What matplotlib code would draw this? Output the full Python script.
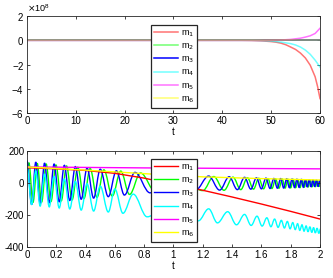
import matplotlib
matplotlib.use('Agg')
import matplotlib.pyplot as plt
from matplotlib.path import Path
from matplotlib.patches import PathPatch
from matplotlib.lines import Line2D

plt.rcParams['font.family'] = ['Liberation Sans', 'DejaVu Sans']
plt.rcParams['font.size'] = 7
plt.rcParams['axes.unicode_minus'] = False

labels = ['m$_1$', 'm$_2$', 'm$_3$', 'm$_4$', 'm$_5$', 'm$_6$']
# MATLAB style pure colours r g b c m y
colors = ['#ff0000', '#00ff00', '#0000ff', '#00ffff', '#ff00ff', '#ffff00']

# ---- top panel: t in [0, 60], values in units of 1e8
top_t = {
    'm1': [0, 44, 46, 48, 50, 51, 52, 53, 54, 55, 56, 57, 58, 59, 59.5, 60],
    'm2': [0, 60],
    'm3': [0, 60],
    'm4': [0, 46, 48, 50, 52, 54, 55, 56, 57, 58, 59, 60],
    'm5': [0, 48, 50, 52, 54, 56, 57, 58, 59, 60],
    'm6': [0, 60],
}
top_v = {
    'm1': [0, 0, -0.01, -0.04, -0.1, -0.15, -0.23, -0.36, -0.55, -0.75, -1.05, -1.45, -2.05, -3.0, -3.8, -4.8],
    'm2': [0, 0],
    'm3': [0, 0],
    'm4': [0, 0, -0.02, -0.06, -0.14, -0.27, -0.38, -0.55, -0.8, -1.15, -1.63, -2.2],
    'm5': [0, 0, 0.01, 0.03, 0.08, 0.18, 0.27, 0.38, 0.57, 1.0],
    'm6': [0, 0],
}

# ---- bottom panel: t in [0, 2]
m1_t = [0, 0.2, 0.4, 0.6, 0.8, 1.0, 1.2, 1.4, 1.6, 1.8, 2.0]
m1_v = [95, 88, 78, 60, 30, -10, -46, -88, -132, -178, -226]
m5_t = [0, 0.4, 0.8, 1.2, 1.6, 2.0]
m5_v = [100, 97, 94, 92, 90, 88]
m6_t = [0, 0.4, 0.8, 1.2, 1.6, 2.0]
m6_v = [100, 80, 58, 38, 27, 18]

# oscillating series: successive peaks / troughs
m2_t = [0, 0.013, 0.041, 0.07, 0.1, 0.131, 0.164, 0.198, 0.234, 0.27, 0.308, 0.347, 0.389,
        0.431, 0.478, 0.525, 0.582, 0.64, 0.7, 0.775, 0.88, 1.03,
        1.2, 1.275, 1.345, 1.406, 1.459, 1.505, 1.546, 1.582, 1.615, 1.645, 1.672, 1.697,
        1.72, 1.742, 1.762, 1.781, 1.8, 1.817, 1.834, 1.849, 1.864, 1.879, 1.893, 1.906,
        1.919, 1.932, 1.945, 1.957, 1.969, 1.981, 1.992, 2.004]
m2_v = [100, 126, -122, 122, -120, 118, -116, 112, -112, 106, -106, 98, -98,
        90, -90, 82, -82, 74, -72, 62, -58, 45,
        -48, 40, -46, 36, -42, 32, -39, 29, -37, 27, -35, 25,
        -33, 24, -32, 23, -31, 22, -30, 21, -29, 20, -28, 19,
        -27, 18, -26, 17, -25, 16, -24, 15]

m3_t = [0, 0.032, 0.06, 0.09, 0.12, 0.152, 0.185, 0.22, 0.255, 0.292, 0.33, 0.37, 0.41,
        0.455, 0.5, 0.555, 0.61, 0.665, 0.737, 0.84, 0.99,
        1.15, 1.24, 1.315, 1.38, 1.436, 1.485, 1.528, 1.566, 1.6, 1.631, 1.659, 1.685,
        1.709, 1.731, 1.752, 1.772, 1.791, 1.809, 1.826, 1.842, 1.857, 1.872, 1.886, 1.9,
        1.913, 1.926, 1.939, 1.951, 1.963, 1.975, 1.987, 1.998, 2.01]
m3_v = [138, -135, 130, -130, 124, -125, 118, -118, 110, -110, 102, -102, 93,
        -95, 86, -86, 76, -76, 66, -62, 50,
        -46, 43, -45, 39, -42, 35, -39, 32, -37, 30, -35, 28,
        -33, 27, -32, 25, -30, 24, -29, 23, -28, 22, -27, 21,
        -26, 20, -25, 19, -24, 18, -23, 17, -22]

m4_t = [0, 0.032, 0.06, 0.09, 0.12, 0.152, 0.185, 0.22, 0.255, 0.292, 0.33, 0.37, 0.41,
        0.455, 0.5, 0.555, 0.6, 0.655, 0.725, 0.82, 0.97,
        1.17, 1.24, 1.3, 1.37, 1.43, 1.485, 1.53, 1.57, 1.605, 1.637, 1.665, 1.69,
        1.714, 1.736, 1.757, 1.777, 1.796, 1.814, 1.831, 1.847, 1.862, 1.877, 1.891, 1.905,
        1.918, 1.931, 1.944, 1.956, 1.968, 1.98, 1.992, 2.004]
m4_v = [100, -135, 75, -145, 55, -150, 40, -157, 25, -163, 10, -170, -5,
        -176, -20, -182, -38, -190, -70, -212, -130,
        -237, -162, -250, -180, -262, -197, -266, -208, -270, -218, -274, -226,
        -278, -234, -282, -241, -287, -248, -292, -255, -297, -262, -302, -269,
        -306, -274, -310, -279, -313, -283, -316, -286]


def wave_path(ts, vs, k=0.36):
    # smooth curve through the peaks and troughs (horizontal tangent at each)
    verts = [(ts[0], vs[0])]
    codes = [Path.MOVETO]
    for i in range(1, len(ts)):
        dt = ts[i] - ts[i - 1]
        verts += [(ts[i - 1] + k * dt, vs[i - 1]), (ts[i] - k * dt, vs[i]), (ts[i], vs[i])]
        codes += [Path.CURVE4] * 3
    return Path(verts, codes)


def style_axes(ax):
    ax.tick_params(direction='in', top=True, right=True, length=2.5, width=0.6,
                   colors='#262626', labelcolor='black', pad=2)
    for s in ax.spines.values():
        s.set_linewidth(0.6)
        s.set_color('#262626')


fig = plt.figure(figsize=(3.33, 2.78), dpi=100)
ax1 = fig.add_axes([0.081, 0.593, 0.880, 0.349])
ax2 = fig.add_axes([0.081, 0.112, 0.880, 0.345])

# top
top_alpha = [0.55, 0.55, 1.0, 0.55, 0.55, 0.55]
for key, c, a, lab in zip(['m1', 'm2', 'm3', 'm4', 'm5', 'm6'], colors, top_alpha, labels):
    ax1.plot(top_t[key], [v * 1e8 for v in top_v[key]], color=c, lw=1.1, alpha=a, label=lab)
ax1.set_xlim(0, 60)
ax1.set_ylim(-6e8, 2e8)
ax1.set_xticks(range(0, 61, 10))
ax1.set_yticks([-6e8, -4e8, -2e8, 0, 2e8])
ax1.ticklabel_format(axis='y', style='sci', scilimits=(0, 0), useMathText=True)
ax1.yaxis.get_offset_text().set_fontsize(6.5)
ax1.set_xlabel('t', labelpad=1)
style_axes(ax1)

# bottom
ax2.plot(m1_t, m1_v, color=colors[0], lw=1.0)
for ts, vs, c in [(m2_t, m2_v, colors[1]), (m3_t, m3_v, colors[2]), (m4_t, m4_v, colors[3])]:
    ax2.add_patch(PathPatch(wave_path(ts, vs), fill=False, edgecolor=c, lw=1.0))
ax2.plot(m5_t, m5_v, color=colors[4], lw=1.0)
ax2.plot(m6_t, m6_v, color=colors[5], lw=1.0)
ax2.set_xlim(0, 2)
ax2.set_ylim(-400, 200)
ax2.set_xticks([0, 0.2, 0.4, 0.6, 0.8, 1, 1.2, 1.4, 1.6, 1.8, 2])
ax2.set_xticklabels(['0', '0.2', '0.4', '0.6', '0.8', '1', '1.2', '1.4', '1.6', '1.8', '2'])
ax2.set_yticks([-400, -200, 0, 200])
ax2.set_xlabel('t', labelpad=1)
style_axes(ax2)

leg_kw = dict(loc='upper left', bbox_transform=fig.transFigure, fontsize=6.5,
              handlelength=2.7, handletextpad=0.3, labelspacing=0.3,
              borderpad=0.35, borderaxespad=0, fancybox=False, framealpha=1,
              edgecolor='#262626')
top_handles = [Line2D([], [], color=c, lw=1.1, alpha=a) for c, a in zip(colors, top_alpha)]
bot_handles = [Line2D([], [], color=c, lw=1.0) for c in colors]
leg1 = ax1.legend(top_handles, labels, bbox_to_anchor=(0.4525, 0.910), **leg_kw)
leg2 = ax2.legend(bot_handles, labels, bbox_to_anchor=(0.4525, 0.428), **leg_kw)
for lg in (leg1, leg2):
    lg.get_frame().set_linewidth(0.9)

fig.savefig('out.png', dpi=100)
